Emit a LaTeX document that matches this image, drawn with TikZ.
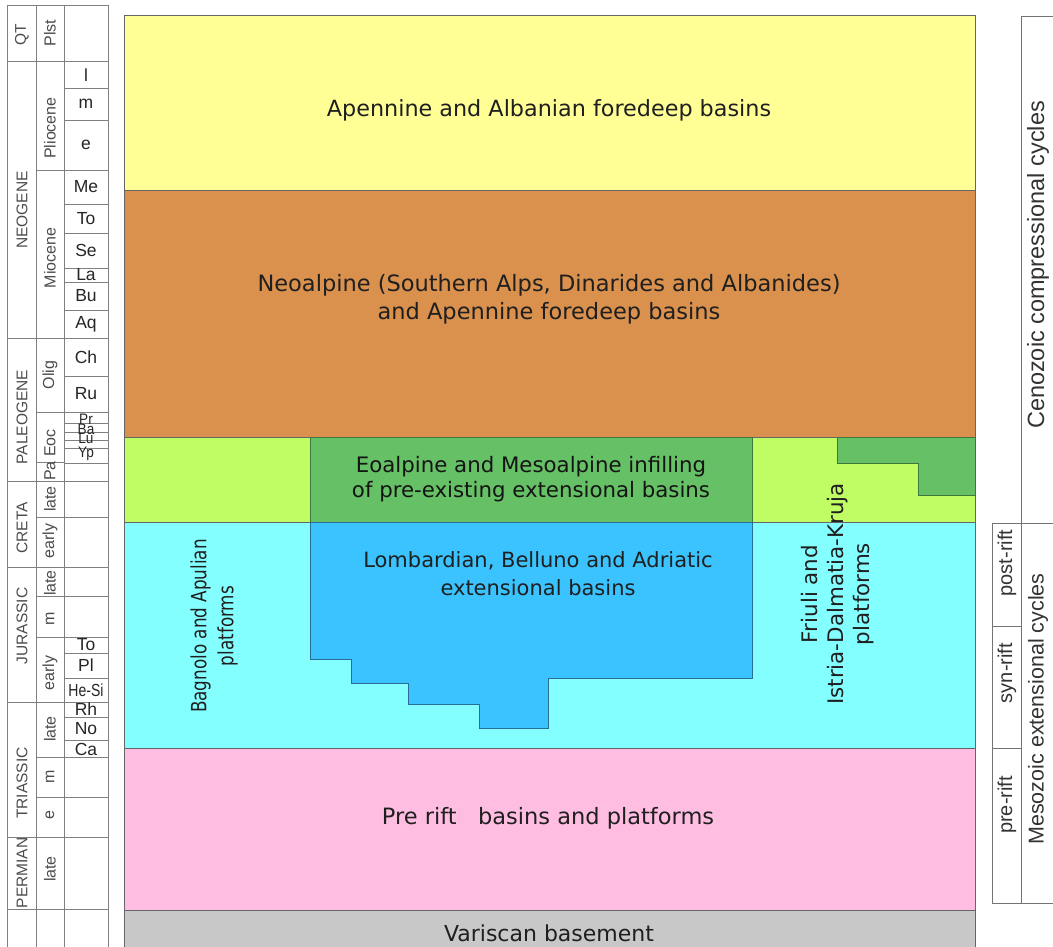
\documentclass[tikz,border=0pt]{standalone}
\usepackage{fontspec}
\usepackage{graphicx}
\setmainfont{Liberation Sans}
\newfontfamily\dv{DejaVu Sans}
\definecolor{cyel}{RGB}{255,255,150}
\definecolor{corg}{RGB}{218,145,78}
\definecolor{clg}{RGB}{192,252,100}
\definecolor{cdg}{RGB}{102,192,102}
\definecolor{cdgl}{RGB}{60,120,60}
\definecolor{ccy}{RGB}{132,255,255}
\definecolor{cbl}{RGB}{58,195,255}
\definecolor{cbll}{RGB}{40,110,150}
\definecolor{cpk}{RGB}{255,190,225}
\definecolor{cgr}{RGB}{200,200,200}
\begin{document}
\begin{tikzpicture}[x=1pt,y=-1pt,
  lay/.style={draw=black!60, line width=0.8pt},
  maintxt/.style={font=\dv\fontsize{22}{28}\selectfont, text=black!88, align=center, inner sep=0},
  gridline/.style={draw=black!50, line width=0.8pt},
  eralbl/.style={font=\fontsize{15.5}{15.5}\selectfont, text=black!70, rotate=90, inner sep=0},
  eplbl/.style={font=\fontsize{16}{16}\selectfont, text=black!70, rotate=90, inner sep=0},
  stglbl/.style={font=\fontsize{17.5}{17.5}\selectfont, text=black!85, inner sep=0},
  sidelbl/.style={font=\fontsize{20}{20}\selectfont, text=black!80, rotate=90, inner sep=0}]
\useasboundingbox (0,0) rectangle (1053,947);
\fill[white] (0,0) rectangle (1053,947);

% ---------- main layers ----------
\filldraw[lay, fill=cyel] (124,15) rectangle (975,190);
\filldraw[lay, fill=corg] (124,190) rectangle (975,437);
\filldraw[lay, fill=clg] (124,437) rectangle (975,522);
\filldraw[lay, fill=ccy] (124,522) rectangle (975,748);
\filldraw[lay, fill=cpk] (124,748) rectangle (975,910);
\fill[cgr] (124,910) rectangle (975,947);
\draw[lay] (124,947) -- (124,910) -- (975,910) -- (975,947);

% dark green infill
\filldraw[draw=cdgl, line width=0.8pt, fill=cdg] (310,437) rectangle (752,522);
\filldraw[draw=cdgl, line width=0.8pt, fill=cdg] (837,437) -- (975,437) -- (975,495) -- (918,495) -- (918,463) -- (837,463) -- cycle;
% blue basin
\filldraw[draw=cbll, line width=0.8pt, fill=cbl] (310,522) -- (752,522) -- (752,678) -- (548,678) -- (548,728) -- (479,728) -- (479,704) -- (408,704) -- (408,683) -- (351,683) -- (351,659) -- (310,659) -- cycle;

% ---------- main texts ----------
\node[maintxt, font=\dv\fontsize{22.3}{28}\selectfont] (t1) at (549,110) {Apennine and Albanian foredeep basins};
\node[maintxt, font=\dv\fontsize{22.5}{28}\selectfont] (t2) at (549,299) {Neoalpine (Southern Alps, Dinarides and Albanides)\\and Apennine foredeep basins};
\node[maintxt, font=\dv\fontsize{21.3}{25}\selectfont, text=black!92] (t3) at (531,479) {Eoalpine and Mesoalpine infilling\\of pre-existing extensional basins};
\node[maintxt, font=\dv\fontsize{21}{28}\selectfont] (t4) at (538,574) {Lombardian, Belluno and Adriatic\\extensional basins};
\node[maintxt, font=\dv\fontsize{22.5}{28}\selectfont] (t5) at (548,818) {Pre rift\ \ \ basins and platforms};
\node[maintxt] (t6) at (549,933) {Variscan basement};
\node[maintxt, rotate=90, font=\dv\fontsize{21}{27}\selectfont] (t7) at (214,626) {\scalebox{0.8}[1]{Bagnolo and Apulian}\\\scalebox{0.8}[1]{platforms}};
\node[maintxt, rotate=90, font=\dv\fontsize{21.4}{26}\selectfont] (t8) at (838,594) {Friuli and\\Istria-Dalmatia-Kruja\\platforms};

% ---------- left chronostratigraphic table ----------
\draw[gridline] (7,947) -- (7,5) -- (108,5) -- (108,947);
\draw[gridline] (36,5) -- (36,947);
\draw[gridline] (64,5) -- (64,947);
\foreach \y in {61,338,481,567,702,837,909} \draw[gridline] (7,\y) -- (36,\y);
\foreach \y in {61,170,338,412,462,481,517,567,596,637,702,757,797,837,909} \draw[gridline] (36,\y) -- (64,\y);
\foreach \y in {61,88,120,170,204,233,268,282,310,338,376,412,423,432,440,448,463,481,517,567,596,637,653,678,702,717,740,757,797,837,909} \draw[gridline] (64,\y) -- (108,\y);

\foreach \y/\t [count=\i] in {35/QT,210/NEOGENE,417/PALEOGENE,528/CRETA,626/JURASSIC,783/TRIASSIC,873/PERMIAN}
  \node[eralbl] (era\i) at (22,\y) {\t};
\foreach \y/\t [count=\i] in {33/Plst,128/Pliocene,258/Miocene,375/Olig,443/Eoc,471/Pa,499/late,541/early,583/late,619/m,673/early,729/late,777/m,815/e,869/late}
  \node[eplbl] (ep\i) at (50,\y) {\t};
\foreach \y/\t [count=\i] in {75/l,104/m,145/e,187/Me,218.5/To,250.5/Se,275/La,296/Bu,324/Aq,357/Ch,394/Ru,645/To,665/Pl,690/{\scalebox{0.8}[1]{He-Si}},709/Rh,729/No,749/Ca}
  \node[stglbl] (st\i) at (86,\y) {\t};
\foreach \y/\t [count=\i] in {419/Pr,429/Ba,438.5/Lu,454/Yp}
  \node[stglbl, font=\fontsize{16}{16}\selectfont] (ss\i) at (86,\y) {\scalebox{0.85}[0.95]{\t}};

% ---------- right side cycles ----------
\draw[gridline, draw=black!55] (1053,16) -- (1021,16) -- (1021,903);
\draw[gridline, draw=black!55] (1053,523) -- (992,523) -- (992,903) -- (1053,903);
\draw[gridline, draw=black!55] (992,626) -- (1021,626);
\draw[gridline, draw=black!55] (992,748) -- (1021,748);
\node[sidelbl, font=\fontsize{23.5}{23.5}\selectfont] (cz) at (1038,265) {Cenozoic compressional cycles};
\node[sidelbl, font=\fontsize{21.5}{21.5}\selectfont] (mz) at (1038,709) {Mesozoic extensional cycles};
\node[sidelbl] (r1) at (1007,563) {post-rift};
\node[sidelbl] (r2) at (1007,673) {syn-rift};
\node[sidelbl] (r3) at (1007,805) {pre-rift};
\end{tikzpicture}
\end{document}
